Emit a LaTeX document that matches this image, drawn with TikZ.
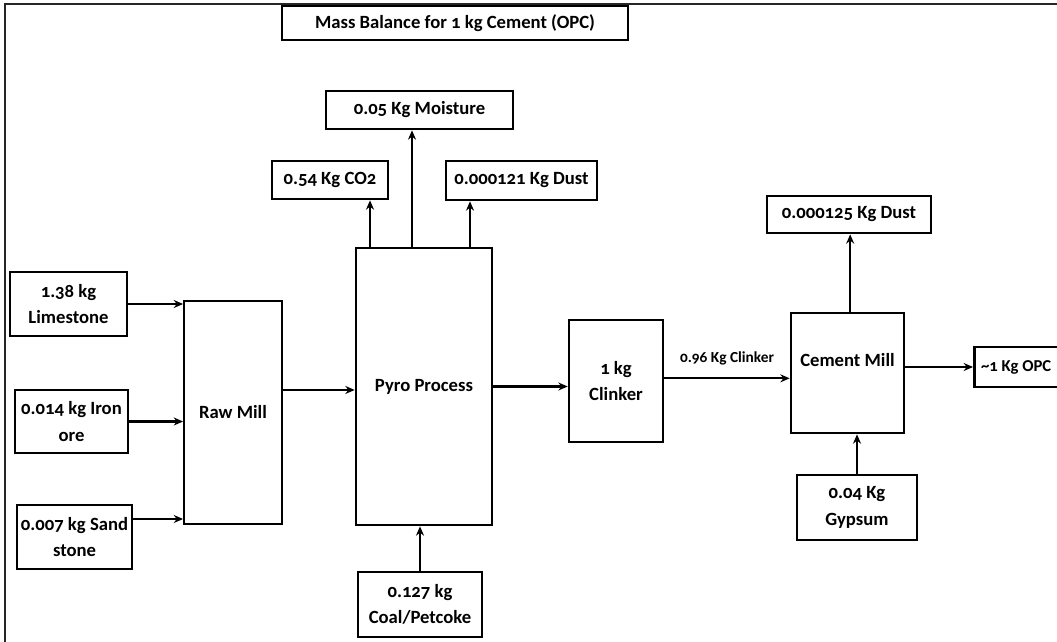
\documentclass[tikz,border=0pt]{standalone}
\usepackage{fontspec}
\setmainfont{Carlito}[Numbers=OldStyle]
\usetikzlibrary{arrows.meta}

\begin{document}
\begin{tikzpicture}[x=0.75pt,y=-0.75pt,
  box/.style={draw=black, line width=2pt, align=center, inner sep=0pt,
    font=\bfseries\fontsize{14}{20}\selectfont},
  unit/.style={box, line width=1.4pt},
  flow/.style={line width=1.7pt, -{Stealth[length=7pt,width=6pt]}}]
\useasboundingbox (0,0) rectangle (1057,642);
\draw [line width=1.4pt, black!85] (5,642) -- (5,4) -- (1057,4);

\node[box, minimum width=259.5pt, minimum height=25.5pt] (title) at (455,23) {Mass Balance for 1 kg Cement (OPC)};

% inputs
\node[box, minimum width=87.75pt, minimum height=48pt] (lime) at (68.5,304) {1.38 kg\\Limestone};
\node[box, minimum width=84.75pt, minimum height=47.25pt] (iron) at (71.5,421.5) {0.014 kg Iron\\ore};
\node[box, minimum width=86.25pt, minimum height=48pt] (sand) at (74.5,537) {0.007 kg Sand\\stone};
\node[box, minimum width=93pt, minimum height=48.75pt] (coal) at (420,604.5) {0.127 kg\\Coal/Petcoke};
\node[box, minimum width=90pt, minimum height=48.75pt] (gyp) at (857,507.5) {0.04 Kg\\Gypsum};

% process units
\node[unit, minimum width=73.5pt, minimum height=167.25pt] (raw) at (233,412.5) {Raw Mill};
\node[box, minimum width=102pt, minimum height=207.75pt] (pyro) at (424,386.5) {Pyro Process};
\node[box, minimum width=70.5pt, minimum height=91.5pt] (clk) at (616,381) {1 kg\\Clinker};
\node[box, minimum width=84.75pt, minimum height=90pt, text depth=20pt] (cem) at (847.5,373) {Cement Mill};

% outputs
\node[box, minimum width=87pt, minimum height=28.5pt] (co2) at (330,180) {0.54 Kg CO2};
\node[box, minimum width=140.25pt, minimum height=28.5pt] (moist) at (419.5,110) {0.05 Kg Moisture};
\node[box, minimum width=113.25pt, minimum height=29.25pt] (dust1) at (521.5,180.5) {0.000121 Kg Dust};
\node[box, minimum width=123pt, minimum height=27.75pt] (dust2) at (849,214.5) {0.000125 Kg Dust};
\node[box, minimum height=30pt, inner xsep=5pt, anchor=west, font=\bfseries\fontsize{12.5}{15}\selectfont] (opc) at (973,367) {\textasciitilde1 Kg OPC};

\draw[flow] (lime.east) -- (lime.east -| raw.west);
\draw[flow] (iron.east) -- (iron.east -| raw.west);
\draw[flow] ([yshift=13.5pt]sand.east) -- ([yshift=13.5pt]sand.east -| raw.west);
\draw[flow] ([yshift=16.9pt]raw.east) -- ([yshift=16.9pt]raw.east -| pyro.west);
\draw[flow] ([xshift=-40.5pt]pyro.north) -- ([xshift=-40.5pt]pyro.north |- co2.south);
\draw[flow] ([xshift=-9pt]pyro.north) -- ([xshift=-9pt]pyro.north |- moist.south);
\draw[flow] ([xshift=34.5pt]pyro.north) -- ([xshift=34.5pt]pyro.north |- dust1.south);
\draw[flow] (coal.north) -- (coal.north |- pyro.south);
\draw[flow] (pyro.east) -- (pyro.east -| clk.west);
\draw[flow] ([yshift=2pt]clk.east) -- node[above=6pt, font=\bfseries\fontsize{11.5}{14}\selectfont] (clab) {0.96 Kg Clinker} ([yshift=2pt]clk.east -| cem.west);
\draw[flow] ([xshift=2pt]cem.north) -- ([xshift=2pt]cem.north |- dust2.south);
\draw[flow] (gyp.north) -- (gyp.north |- cem.south);
\draw[flow] (opc.west -| cem.east) -- (opc.west);

\end{tikzpicture}
\end{document}
